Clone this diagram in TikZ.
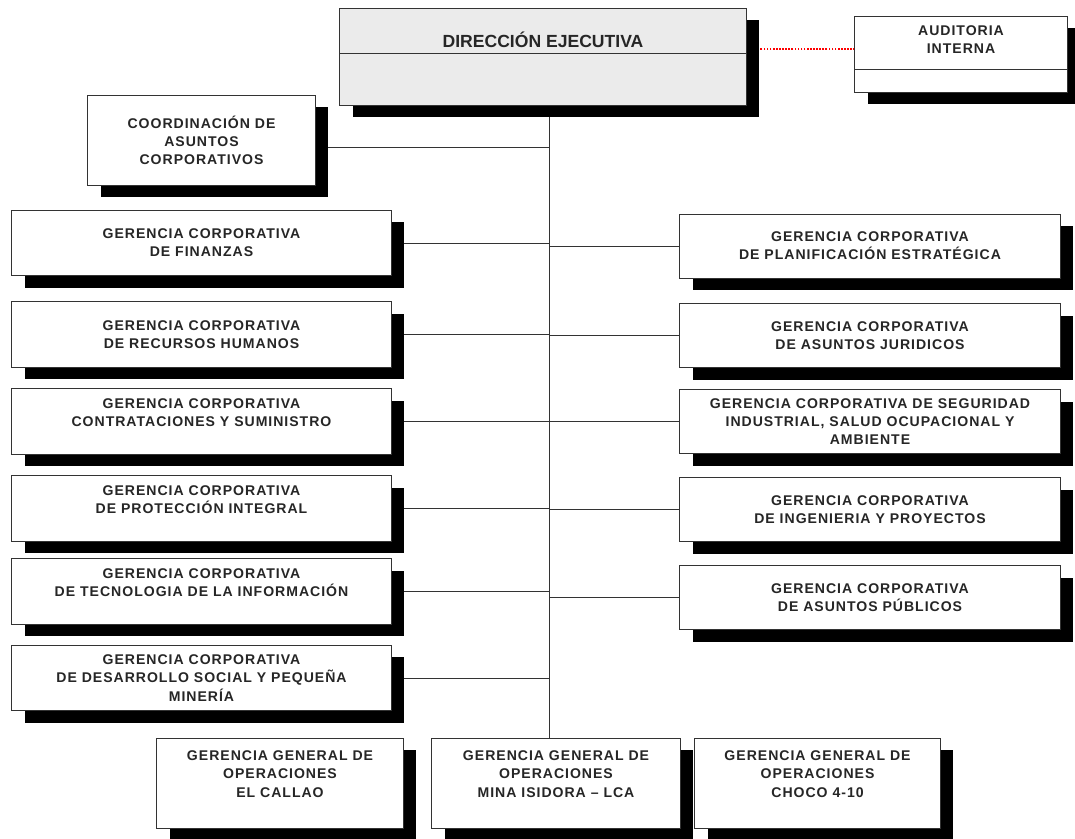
\documentclass[tikz,border=0pt]{standalone}
\usepackage{fontspec}
\usepackage{tikz}
\usetikzlibrary{shadows}
\usetikzlibrary{backgrounds}
\usetikzlibrary{positioning, calc}

\newfontfamily\orgfont{Liberation Sans}[LetterSpace=7]
\newfontfamily\dirfont{Liberation Sans}

\begin{document}
\begin{tikzpicture}[
    x=0.025cm, y=-0.025cm,
    box/.style={draw=black!80, rectangle, line width=0.7pt, fill=white, align=center, inner sep=0pt, outer sep=0pt,
        text=black!85, font=\orgfont\bfseries\fontsize{10}{12.9}\selectfont,
        drop shadow={shadow xshift=0.33cm, shadow yshift=-0.3cm, opacity=1, fill=black}},
    leftbox/.style={box, minimum width=9.475cm, minimum height=1.63cm},
    rightbox/.style={box, minimum width=9.5cm, minimum height=1.6cm},
    opbox/.style={box, minimum width=6.15cm, minimum height=2.25cm},
    boxtext/.style={align=center, inner sep=0pt, text=black!85, font=\orgfont\bfseries\fontsize{10}{12.9}\selectfont},
    link/.style={draw=black!80, line width=0.7pt}
]
    \useasboundingbox (0,0) rectangle (1075,838);

    % --- Top ---
    \node[box, fill=black!8, minimum width=10.15cm, minimum height=2.425cm] (dir) at (543,56.5) {};
    \node[font=\dirfont\bfseries\fontsize{12.5}{14}\selectfont, text=black!85] (dirtxt) at (543,40) {DIRECCIÓN EJECUTIVA};
    \draw[line width=0.7pt, black!80] (dir.west |- 0,53) -- (dir.east |- 0,53);

    \node[box, minimum width=5.3cm, minimum height=1.9cm] (aud) at (961,54) {};
    \node[boxtext] (audtxt) at (961,40) {AUDITORIA\\INTERNA};
    \draw[line width=0.7pt, black!80] (aud.west |- 0,69) -- (aud.east |- 0,69);

    \node[box, minimum width=5.675cm, minimum height=2.25cm] (coord) at (201.5,140) {COORDINACIÓN DE\\ASUNTOS\\CORPORATIVOS};

    % --- Left column ---
    \node[leftbox] (fin) at (201.5,243) {GERENCIA CORPORATIVA\\DE FINANZAS};
    \node[leftbox] (rrhh) at (201.5,334.5) {GERENCIA CORPORATIVA\\DE RECURSOS HUMANOS};
    \node[leftbox] (contr) at (201.5,421.5) {GERENCIA CORPORATIVA\\CONTRATACIONES Y SUMINISTRO\\\mbox{}};
    \node[leftbox] (prot) at (201.5,508.5) {GERENCIA CORPORATIVA\\DE PROTECCIÓN INTEGRAL\\\mbox{}};
    \node[leftbox] (tec) at (201.5,591.5) {GERENCIA CORPORATIVA\\DE TECNOLOGIA DE LA INFORMACIÓN\\\mbox{}};
    \node[leftbox] (desa) at (201.5,678) {GERENCIA CORPORATIVA\\DE DESARROLLO SOCIAL Y PEQUEÑA\\MINERÍA};

    % --- Right column ---
    \node[rightbox] (plan) at (870,246) {GERENCIA CORPORATIVA\\DE PLANIFICACIÓN ESTRATÉGICA};
    \node[rightbox] (jur) at (870,335.5) {GERENCIA CORPORATIVA\\DE ASUNTOS JURIDICOS};
    \node[rightbox] (seg) at (870,421.5) {GERENCIA CORPORATIVA DE SEGURIDAD\\INDUSTRIAL, SALUD OCUPACIONAL Y\\AMBIENTE};
    \node[rightbox] (ing) at (870,509.5) {GERENCIA CORPORATIVA\\DE INGENIERIA Y PROYECTOS};
    \node[rightbox] (pub) at (870,597.5) {GERENCIA CORPORATIVA\\DE ASUNTOS PÚBLICOS};

    % --- Operations ---
    \node[opbox] (callao) at (280,783) {GERENCIA GENERAL DE\\OPERACIONES\\EL CALLAO\\\mbox{}};
    \node[opbox, minimum width=6.2cm] (mina) at (556,783) {GERENCIA GENERAL DE\\OPERACIONES\\MINA ISIDORA – LCA\\\mbox{}};
    \node[opbox, minimum width=6.125cm] (choco) at (817.5,783) {GERENCIA GENERAL DE\\OPERACIONES\\CHOCO 4-10\\\mbox{}};

    \coordinate (trunktop) at (549,105);
    \coordinate (trunkbot) at (549,738);

    % Connectors behind the boxes
    \begin{scope}[on background layer]
        \draw[link] (trunktop) -- (trunkbot);
        \draw[link] ($(coord.east)+(0,7)$) -- ($(coord.east -| trunktop)+(0,7)$);
        \foreach \n in {fin, rrhh, contr, prot, tec, desa}
            \draw[link] (\n.east) -- (\n.east -| trunktop);
        \foreach \n in {plan, jur, seg, ing, pub}
            \draw[link] (\n.west) -- (\n.west -| trunktop);
        \draw[red, densely dotted, line width=1.2pt] ($(aud.west)+(0,-5)$) -- ($(dir.east |- aud.west)+(0,-5)$);
    \end{scope}

\end{tikzpicture}
\end{document}
